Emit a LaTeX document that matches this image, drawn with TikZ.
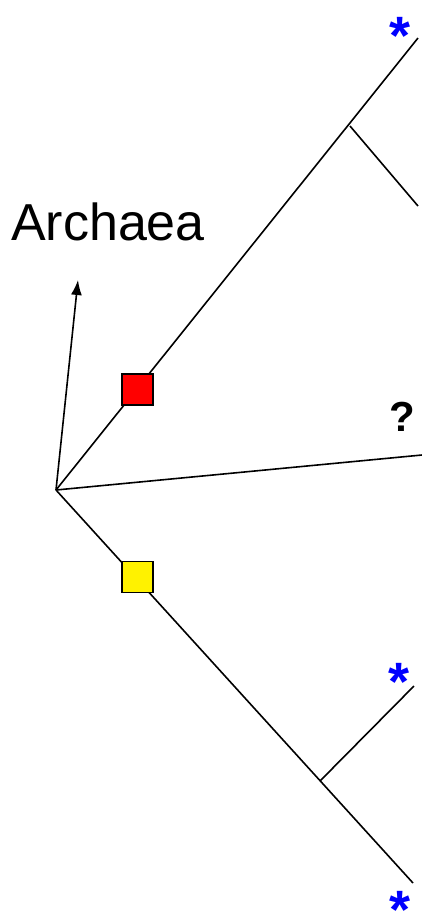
\documentclass[tikz,border=0pt]{standalone}
\usepackage{fontspec}
\setmainfont{Liberation Sans}
\usetikzlibrary{arrows.meta}

\begin{document}
\begin{tikzpicture}[x=0.5pt, y=-0.5pt, line width=0.8pt, >={Latex[length=7.5pt,width=5.5pt]}, sq/.style={draw, line width=0.6pt, minimum size=15.5pt, inner sep=0pt}, star/.style={text=blue, font=\bfseries\fontsize{27}{27}\selectfont, inner sep=0pt}]
	\useasboundingbox (0,0) rectangle (422,922);
	\coordinate (root) at (56,490);
	\coordinate (tA) at (418,38);
	\coordinate (bA) at (350,126);
	\coordinate (tB) at (418,206);
	\coordinate (tQ) at (422,455);
	\coordinate (bC) at (320,781);
	\coordinate (tC) at (414,686);
	\coordinate (tD) at (413,883);
	\coordinate (tArc) at (78,280);
	\draw (root) -- (tA);
	\draw (bA) -- (tB);
	\draw (root) -- (tQ);
	\draw (root) -- (tD);
	\draw (bC) -- (tC);
	\draw[->] (root) -- (tArc);
	\node[sq, fill=red] (red) at (137.5,389.5) {};
	\node[sq, fill=yellow] (yel) at (137.5,577) {};
	\node[font=\fontsize{26}{30}\selectfont, inner sep=0pt] (arc) at (108,222) {Archaea};
	\node[star] (s1) at (400,36) {*};
	\node[star] (s2) at (399,682) {*};
	\node[star] (s3) at (400,910) {*};
	\node[font=\bfseries\fontsize{21}{21}\selectfont, inner sep=0pt] (q) at (402,417) {?};
\end{tikzpicture}
\end{document}
